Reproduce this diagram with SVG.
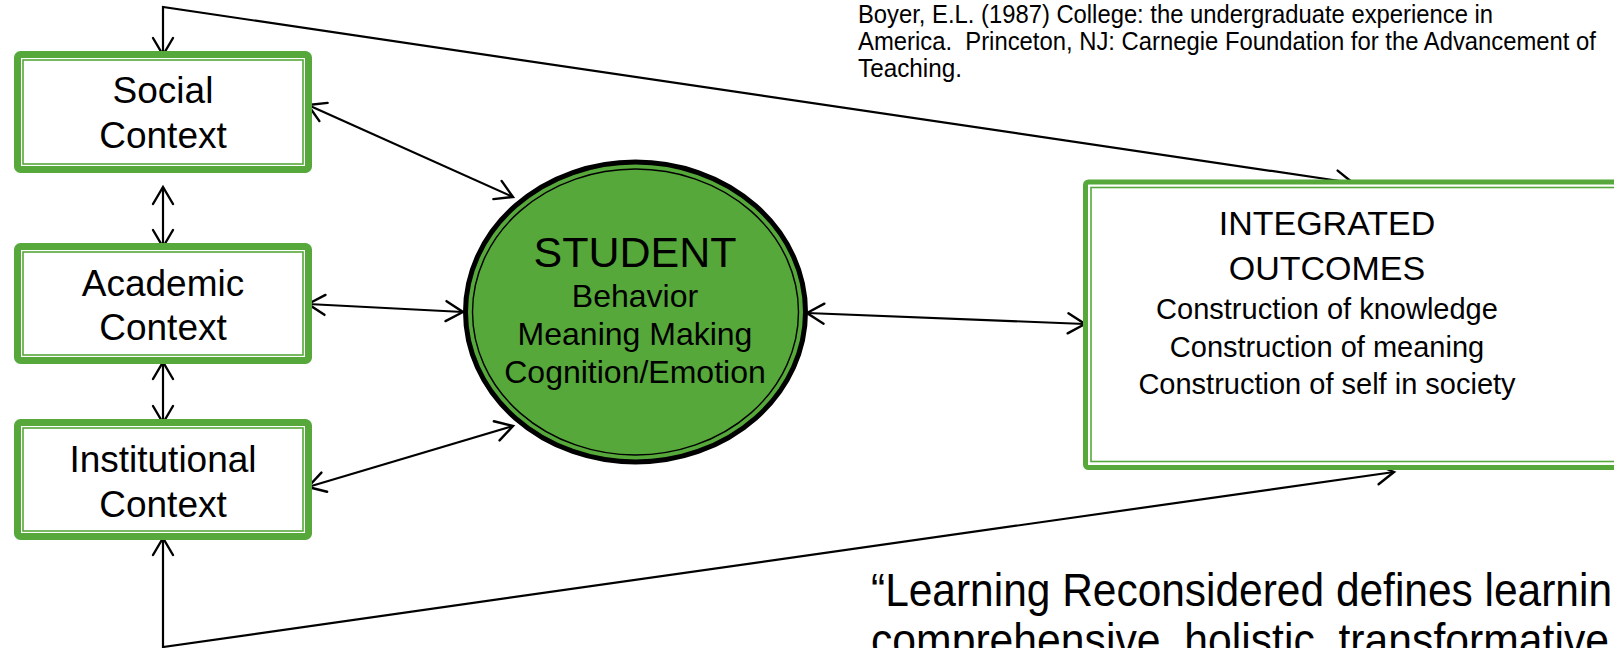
<svg xmlns="http://www.w3.org/2000/svg" width="1614" height="648" viewBox="0 0 1614 648">
<style>
.outer{fill:#fff;stroke:#56a83a;stroke-width:7}
.inner{fill:none;stroke:#56a83a;stroke-width:1.6}
.lbl{font-family:"Liberation Sans",Arial,sans-serif;fill:#000;text-anchor:middle}
.ctx{font-size:37px}
.con{fill:none;stroke:#000;stroke-width:2.2;marker-start:url(#ah);marker-end:url(#ah)}
.note{font-family:"Liberation Sans",Arial,sans-serif;fill:#000}
</style>
<defs>
<marker id="ah" markerUnits="userSpaceOnUse" viewBox="-22 -14 26 28" refX="0" refY="0" markerWidth="26" markerHeight="28" orient="auto-start-reverse">
<path d="M-17,-10 L0,0 L-17,10" fill="none" stroke="#000" stroke-width="2.4" stroke-linecap="round" stroke-linejoin="miter"/>
</marker>
</defs>
<rect width="1614" height="648" fill="#fff"/>
<g id="connectors">
<path class="con" d="M163,187 L163,247"/>
<path class="con" d="M163,362 L163,423"/>
<path class="con" d="M308,105 L513,197"/>
<path class="con" d="M308,304 L463,312"/>
<path class="con" d="M308,487 L513,426"/>
<path class="con" d="M807,313 L1085,324"/>
<path class="con" d="M1353,183 L163,7 L163,55"/>
<path class="con" d="M1394,472 L163,647 L163,538"/>
</g>
<g id="social">
<rect class="outer" x="17.5" y="54.5" width="291" height="115" rx="3"/>
<rect class="inner" x="23" y="60" width="280" height="104"/>
<text class="lbl ctx" x="163" y="103">Social</text>
<text class="lbl ctx" x="163" y="148">Context</text>
</g>
<g id="academic">
<rect class="outer" x="17.5" y="246.5" width="291" height="114" rx="3"/>
<rect class="inner" x="23" y="252" width="280" height="103"/>
<text class="lbl ctx" x="163" y="296">Academic</text>
<text class="lbl ctx" x="163" y="340">Context</text>
</g>
<g id="institutional">
<rect class="outer" x="17.5" y="422.5" width="291" height="114" rx="3"/>
<rect class="inner" x="23" y="428" width="280" height="103"/>
<text class="lbl ctx" x="163" y="472">Institutional</text>
<text class="lbl ctx" x="163" y="517">Context</text>
</g>
<g id="student">
<ellipse cx="635.5" cy="312" rx="170" ry="150" fill="#56a83a" stroke="#000" stroke-width="5"/>
<ellipse cx="635.5" cy="312" rx="163" ry="143" fill="none" stroke="#000" stroke-width="1.4"/>
<text class="lbl" x="635" y="267" font-size="43">STUDENT</text>
<text class="lbl" x="635" y="307" font-size="32">Behavior</text>
<text class="lbl" x="635" y="345" font-size="32">Meaning Making</text>
<text class="lbl" x="635" y="383" font-size="32">Cognition/Emotion</text>
</g>
<g id="outcomes">
<rect x="1085.5" y="182" width="560" height="285.5" fill="#fff" stroke="#56a83a" stroke-width="5" rx="3"/>
<rect x="1091" y="187.5" width="560" height="274" fill="none" stroke="#56a83a" stroke-width="1.6"/>
<text class="lbl" x="1327" y="235" font-size="34">INTEGRATED</text>
<text class="lbl" x="1327" y="280" font-size="34">OUTCOMES</text>
<text class="lbl" x="1327" y="319" font-size="29">Construction of knowledge</text>
<text class="lbl" x="1327" y="357" font-size="29">Construction of meaning</text>
<text class="lbl" x="1327" y="394" font-size="29">Construction of self in society</text>
</g>
<g id="citation">
<text class="note" x="858" y="23" font-size="25" textLength="635" lengthAdjust="spacingAndGlyphs">Boyer, E.L. (1987) College: the undergraduate experience in</text>
<text class="note" x="858" y="50" font-size="25" textLength="738" lengthAdjust="spacingAndGlyphs" xml:space="preserve">America.  Princeton, NJ: Carnegie Foundation for the Advancement of</text>
<text class="note" x="858" y="77" font-size="25" textLength="104" lengthAdjust="spacingAndGlyphs">Teaching.</text>
</g>
<g id="quote">
<text class="note" x="871" y="606" font-size="46" textLength="741" lengthAdjust="spacingAndGlyphs">“Learning Reconsidered defines learnin</text>
<text class="note" x="871" y="656" font-size="46" textLength="738" lengthAdjust="spacingAndGlyphs">comprehensive, holistic, transformative</text>
</g>
</svg>
